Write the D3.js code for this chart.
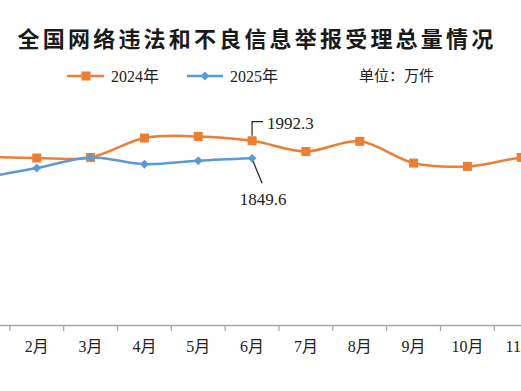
<!DOCTYPE html>
<html>
<head>
<meta charset="utf-8">
<script src="https://cdn.jsdelivr.net/npm/d3@7"></script>
<style>
  body { margin: 0; background: #fff; }
  svg { display: block; }
</style>
</head>
<body>
<div id="chart"></div>
<script>
// months on the x axis
var months = ["1月", "2月", "3月", "4月", "5月", "6月", "7月", "8月", "9月", "10月", "11月", "12月"];
// 举报受理总量, 万件
var values2024 = [1862, 1852, 1857, 2014, 2027, 1992.3, 1905, 1987, 1811, 1784, 1857, 1900];
var values2025 = [1692, 1771, 1857, 1802, 1830, 1849.6];
var seriesNames = ["2024年", "2025年"];

var W = 521, H = 391;
var serif = "'Times New Roman', 'Liberation Serif', 'Noto Sans CJK SC', serif";

var svg = d3.select("#chart").append("svg")
    .attr("width", W)
    .attr("height", H);

// the plot is wider than the window, so Jan and Dec fall outside
var x = d3.scaleBand().domain(months).range([-44, 602]).paddingInner(0);
var y = d3.scaleLinear().domain([500, 2500]).range([325, 78]);
var cx = function(m) { return x(m) + x.bandwidth() / 2 };

svg.append("text")
    .attr("x", 257)
    .attr("y", 47)
    .attr("text-anchor", "middle")
    .style("font-family", "'Noto Sans CJK SC', sans-serif")
    .style("font-weight", "bold")
    .style("font-size", "22px")
    .style("letter-spacing", "3.2px")
    .attr("fill", "#1a1a1a")
    .text("全国网络违法和不良信息举报受理总量情况");

// x axis
var xAxis = svg.append("g")
    .attr("transform", "translate(0,325)")
    .call(d3.axisBottom(x).tickSize(6).tickSizeOuter(0).tickPadding(10));
xAxis.select(".domain").attr("stroke", "#a6a6a6").attr("stroke-width", 1.5);
xAxis.selectAll(".tick line")
    .attr("stroke", "#a6a6a6")
    .attr("stroke-width", 1.2)
    .attr("x1", -x.bandwidth() / 2)
    .attr("x2", -x.bandwidth() / 2);
xAxis.selectAll(".tick text")
    .attr("fill", "#222")
    .style("font-family", serif)
    .style("font-size", "16px");

var line = d3.line()
    .x(function(d, i) { return cx(months[i]) })
    .y(function(d) { return y(d) })
    .curve(d3.curveCatmullRom.alpha(0));

var orange = "#ED7D31", blue = "#5B9BD5";

svg.append("path")
    .datum(values2024)
    .attr("d", line)
    .attr("fill", "none")
    .attr("stroke", orange)
    .attr("stroke-width", 2.5);

svg.selectAll(".sq")
    .data(values2024)
    .enter().append("rect")
    .attr("class", "sq")
    .attr("x", function(d, i) { return cx(months[i]) - 4.5 })
    .attr("y", function(d) { return y(d) - 4.5 })
    .attr("width", 9)
    .attr("height", 9)
    .attr("fill", orange);

svg.append("path")
    .datum(values2025)
    .attr("d", line)
    .attr("fill", "none")
    .attr("stroke", blue)
    .attr("stroke-width", 2.5);

var diamond = d3.symbol().type(d3.symbolDiamond2).size(50);
svg.selectAll(".dm")
    .data(values2025)
    .enter().append("path")
    .attr("class", "dm")
    .attr("d", diamond)
    .attr("transform", function(d, i) { return "translate(" + cx(months[i]) + "," + y(d) + ")" })
    .attr("fill", blue);

// data labels for June
var jun = cx("6月");
var y24 = y(values2024[5]), y25 = y(values2025[5]);

svg.append("path")
    .attr("d", "M" + jun + "," + (y24 - 5) + "V" + (y24 - 19) + "H" + (jun + 11))
    .attr("fill", "none")
    .attr("stroke", "#222")
    .attr("stroke-width", 1.2);
svg.append("text")
    .attr("x", jun + 15)
    .attr("y", y24 - 12)
    .style("font-family", serif)
    .style("font-size", "17px")
    .attr("fill", "#222")
    .text(values2024[5]);

svg.append("line")
    .attr("x1", jun + 1).attr("y1", y25 + 3)
    .attr("x2", jun + 10).attr("y2", y25 + 25)
    .attr("stroke", "#222")
    .attr("stroke-width", 1.2);
svg.append("text")
    .attr("x", jun + 11)
    .attr("y", y25 + 47)
    .attr("text-anchor", "middle")
    .style("font-family", serif)
    .style("font-size", "17px")
    .attr("fill", "#222")
    .text(values2025[5]);

// legend
var legend = svg.append("g").attr("transform", "translate(0,76)");
legend.append("line").attr("x1", 67).attr("x2", 104).attr("stroke", orange).attr("stroke-width", 2.5);
legend.append("rect").attr("x", 81.5).attr("y", -4.5).attr("width", 9).attr("height", 9).attr("fill", orange);
legend.append("text").attr("x", 111).attr("y", 6)
    .style("font-family", serif).style("font-size", "16px").attr("fill", "#222")
    .text(seriesNames[0]);

legend.append("line").attr("x1", 187).attr("x2", 223).attr("stroke", blue).attr("stroke-width", 2.5);
legend.append("path").attr("d", diamond).attr("transform", "translate(205,0)").attr("fill", blue);
legend.append("text").attr("x", 230).attr("y", 6)
    .style("font-family", serif).style("font-size", "16px").attr("fill", "#222")
    .text(seriesNames[1]);

legend.append("text").attr("x", 359).attr("y", 5)
    .style("font-family", "'Noto Sans CJK SC', sans-serif").style("font-size", "15px").attr("fill", "#222")
    .text("单位：万件");
</script>
</body>
</html>
